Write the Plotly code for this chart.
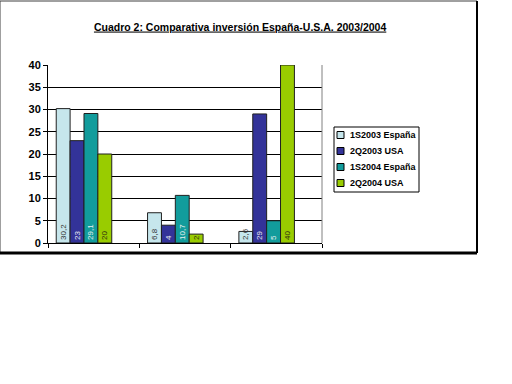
import plotly.graph_objects as go

categories = ["Grupo 1", "Grupo 2", "Grupo 3"]
series_names = ["1S2003 España", "2Q2003 USA", "1S2004 España", "2Q2004 USA"]
values_1s2003_es = [30.2, 6.8, 2.6]
values_2q2003_usa = [23, 4, 29]
values_1s2004_es = [29.1, 10.7, 5]
values_2q2004_usa = [20, 2, 40]
y_ticks = [0, 5, 10, 15, 20, 25, 30, 35, 40]

all_values = [values_1s2003_es, values_2q2003_usa, values_1s2004_es, values_2q2004_usa]
colors = ["#C6E6EC", "#333399", "#129C9C", "#99CC00"]
text_colors = ["#333333", "#E8E8F0", "#E8F0F0", "#303010"]

# plot-area pixel geometry helpers (layout only)
L, T, W, H = 48, 65, 274, 178
def px(x):
    return (x - L) / W
def py(y):
    return (T + H - y) / H

BAR_W = 0.152
fig = go.Figure()
for i, (name, vals, col, tc) in enumerate(zip(series_names, all_values, colors, text_colors)):
    fig.add_trace(go.Bar(
        x=categories, y=vals, name=name, showlegend=False,
        width=BAR_W, offset=-0.41 + i * BAR_W,
        marker=dict(color=col, line=dict(color="#202020", width=1)),
        text=[f"{v:g}".replace(".", ",") for v in vals],
        textposition="inside", insidetextanchor="start", textangle=-90,
        textfont=dict(size=8, color=tc, family="Liberation Sans"),
        cliponaxis=False,
    ))

shapes = [
    dict(type="rect", xref="paper", yref="paper",
         x0=px(0), x1=px(477), y0=py(253), y1=py(1),
         line=dict(color="#404040", width=1), fillcolor="rgba(0,0,0,0)", layer="below"),
    dict(type="line", xref="paper", yref="paper", x0=px(0), x1=px(477), y0=py(253), y1=py(253),
         line=dict(color="black", width=3)),
    dict(type="line", xref="paper", yref="paper", x0=px(477), x1=px(477), y0=py(253), y1=py(1),
         line=dict(color="black", width=2)),
    dict(type="line", xref="paper", yref="paper", x0=1, x1=1, y0=0, y1=1,
         line=dict(color="#808080", width=1)),
    # legend box
    dict(type="rect", xref="paper", yref="paper",
         x0=px(334), x1=px(419), y0=py(192), y1=py(127),
         line=dict(color="black", width=1), fillcolor="white"),
]
annotations = []
for i, (name, col) in enumerate(zip(series_names, colors)):
    cy = 135 + 16 * i
    shapes.append(dict(type="rect", xref="paper", yref="paper",
                       x0=px(337), x1=px(344), y0=py(cy + 3.5), y1=py(cy - 3.5),
                       line=dict(color="black", width=1), fillcolor=col))
    annotations.append(dict(text=f"<b>{name}</b>", xref="paper", yref="paper",
                            x=px(348), y=py(cy), xanchor="left", yanchor="middle",
                            showarrow=False,
                            font=dict(size=9, family="Liberation Sans", color="black")))

fig.update_layout(
    width=512, height=384,
    paper_bgcolor="white", plot_bgcolor="white",
    margin=dict(l=L, r=512 - L - W, t=T, b=384 - T - H),
    barmode="group",
    uniformtext=dict(minsize=8, mode="show"),
    font=dict(family="Liberation Sans", color="black"),
    title=dict(
        text="<u><b>Cuadro 2: Comparativa inversión España-U.S.A. 2003/2004</b></u>",
        x=0.469, xanchor="center", y=0.93, yanchor="middle",
        font=dict(size=10.5, family="Liberation Sans", color="black"),
    ),
    showlegend=False,
    xaxis=dict(
        showticklabels=False, tickson="boundaries", ticks="outside", ticklen=4,
        tickcolor="black", showline=True, linecolor="black", linewidth=1,
        showgrid=False, zeroline=False, automargin=False,
    ),
    yaxis=dict(
        range=[0, 40], tickvals=y_ticks, ticks="outside", ticklen=4, tickcolor="black",
        showline=True, linecolor="black", linewidth=1, mirror=False,
        showgrid=True, gridcolor="black", gridwidth=1, zeroline=False, automargin=False,
        tickfont=dict(size=11, family="Liberation Sans", color="black", weight="bold"),
    ),
    shapes=shapes,
    annotations=annotations,
)

fig.write_html("out.html", config={"displayModeBar": False},
               post_script="document.body.style.margin='0';document.body.style.padding='0';")
